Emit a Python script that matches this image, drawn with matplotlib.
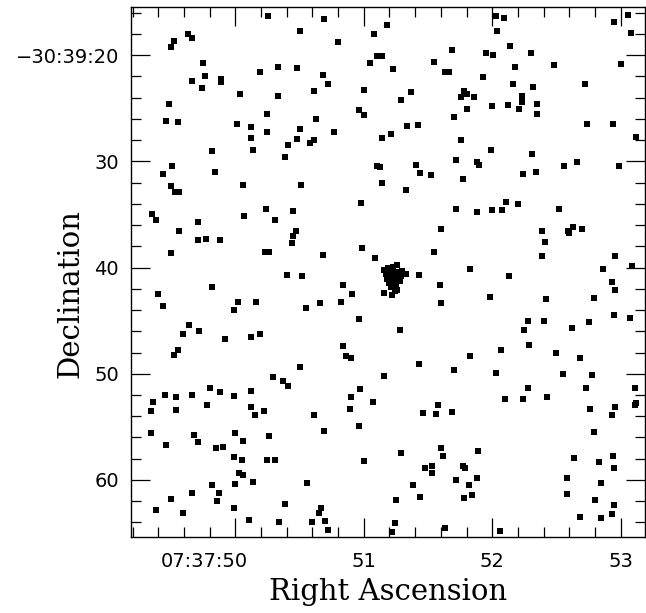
import matplotlib
matplotlib.use("Agg")
import matplotlib.pyplot as plt
import matplotlib.transforms as mtransforms
from matplotlib.ticker import MultipleLocator
import numpy as np

# Right ascension (seconds of 07:37) and declination (arcsec of -30:39) of field sources
ra_field = [
    50.255, 50.50, 49.63, 49.66, 49.52, 49.50, 49.75, 50.33, 50.48, 50.19, 49.76, 49.66, 49.89, 49.89,
    49.74, 50.04, 50.33, 49.48, 50.25, 49.46, 49.55, 50.01, 50.12, 50.50, 50.25, 50.12, 50.48, 49.82,
    50.14, 50.41, 50.39, 49.51, 49.44, 49.84, 49.50, 50.06, 50.51, 49.53, 49.56,
    50.69, 51.18, 51.08, 50.80, 51.69, 51.10, 51.14, 51.05, 51.55, 51.23, 51.63, 51.66, 50.68, 50.72,
    50.61, 51.00, 51.37, 51.29, 51.78, 51.80, 51.76, 51.86, 51.80, 50.96, 51.00, 51.70, 50.63, 51.34,
    51.42, 50.77, 50.58, 50.61, 51.14, 51.21, 51.76, 51.72, 51.10, 51.13, 51.41, 51.44, 51.52, 51.77,
    51.14, 51.33,
    52.03, 52.09, 53.06, 52.95, 52.04, 53.08, 52.14, 51.95, 52.01, 52.30, 52.18, 52.48, 53.00, 51.93,
    52.16, 52.32, 52.72, 52.00, 52.12, 52.23, 52.23, 52.21, 52.35, 52.35, 52.74, 52.94, 53.12, 51.99,
    52.31, 51.88, 51.90, 52.56, 52.66, 52.99, 52.24, 52.34,
    49.35, 49.38, 49.71, 49.56, 49.71, 49.77, 49.88, 49.50, 50.07, 50.24, 50.31, 50.45, 50.47, 50.45,
    50.44, 50.23, 50.26, 50.40, 50.52, 49.82, 49.40, 49.44, 50.02, 50.16, 49.99, 49.64, 49.59, 49.72,
    49.92, 50.12, 50.19, 49.52, 49.55, 50.50, 50.29, 50.37,
    50.98, 51.72, 51.60, 50.68, 50.99, 51.09, 51.55, 51.83, 51.43, 50.84, 50.91, 51.16, 51.59, 50.66,
    50.82, 50.55, 51.60, 50.96, 51.28, 50.84, 50.86, 50.90, 51.43, 51.83, 51.70, 51.16,
    52.11, 52.20, 51.88, 52.00, 52.08, 52.52, 52.39, 52.63, 52.59, 52.60, 52.70, 52.41, 52.39, 52.96,
    52.86, 53.09, 52.13, 52.93, 52.96, 51.98, 52.42, 52.79, 52.28, 52.40, 52.25, 52.62, 52.75, 52.95,
    53.07, 52.29, 52.07, 52.50, 52.68, 52.03, 52.55, 52.78,
    50.41, 49.80, 49.88, 49.99, 50.12, 49.45, 49.54, 49.66, 49.36, 49.34, 49.54, 49.78, 50.12, 50.15,
    50.22, 49.34, 49.46, 49.68, 49.71, 49.85, 49.90, 50.00, 50.06, 50.26, 49.99, 50.05, 50.25, 50.31,
    50.03, 50.06, 50.14, 50.00, 49.82, 49.87, 49.66, 49.50, 49.86, 49.99, 49.38, 49.59, 50.39, 50.11,
    50.34,
    50.97, 50.90, 50.89, 51.07, 50.61, 50.96, 50.69, 51.00, 50.56, 50.67, 50.65, 50.60, 50.70, 50.72,
    51.46, 51.56, 51.58, 51.69, 51.29, 51.60, 51.62, 51.48, 51.53, 51.53, 51.77, 51.79, 51.72, 51.82,
    51.38, 51.44, 51.25, 51.78, 51.84, 51.24, 51.22, 51.63,
    52.28, 52.10, 52.24, 52.43, 52.73, 53.11, 53.11, 53.12, 52.76, 52.96, 52.93, 52.79, 51.89, 52.64,
    52.83, 52.94, 52.95, 51.88, 52.58, 52.85, 52.58, 52.80, 52.95, 52.68, 52.85, 52.93, 52.06,
]
dec_field = [
    16.3, 17.7, 18.0, 18.4, 18.7, 19.2, 20.7, 21.1, 21.25, 21.6, 22.0, 22.4, 22.2, 22.5,
    23.1, 23.7, 23.8, 24.6, 25.5, 26.2, 26.3, 26.5, 26.8, 27.0, 27.2, 27.8, 27.9, 29.0,
    28.9, 28.5, 29.6, 30.4, 31.2, 31.0, 32.3, 32.2, 32.2, 32.9, 32.9,
    16.56, 17.2, 18.0, 18.75, 19.5, 20.06, 20.06, 20.7, 20.6, 21.3, 21.6, 21.6, 21.9, 22.7,
    23.4, 23.3, 23.5, 24.2, 23.4, 23.7, 23.9, 23.9, 25.1, 25.2, 25.6, 25.8, 26.0, 26.7,
    26.6, 27.25, 28.3, 28.0, 27.8, 27.4, 28.0, 29.9, 30.4, 30.5, 30.3, 31.1, 31.3, 31.7,
    32.0, 32.7,
    16.3, 16.5, 16.2, 16.9, 17.7, 17.9, 19.1, 19.8, 20.0, 19.8, 21.1, 20.9, 20.8, 22.1,
    22.7, 23.0, 22.7, 24.75, 24.7, 23.8, 24.4, 25.1, 24.6, 25.5, 26.5, 26.5, 27.7, 28.9,
    29.3, 30.1, 30.3, 30.4, 30.1, 30.4, 31.2, 31.0,
    35.0, 35.5, 35.7, 36.6, 37.4, 37.3, 37.4, 38.65, 35.15, 34.5, 35.5, 34.7, 36.6, 37.0,
    37.65, 38.5, 38.5, 40.7, 40.8, 41.8, 42.5, 43.6, 43.2, 43.2, 44.0, 45.4, 46.3, 46.0,
    46.7, 46.5, 46.3, 48.2, 47.8, 49.4, 50.3, 50.7,
    33.96, 34.5, 36.4, 38.8, 38.2, 39.1, 38.5, 40.1, 40.7, 41.6, 42.5, 42.4, 41.6, 43.3,
    43.2, 43.8, 43.3, 44.8, 45.9, 47.4, 48.3, 48.5, 49.1, 48.3, 49.65, 50.2,
    33.8, 34.0, 34.8, 34.6, 34.6, 34.5, 36.6, 36.2, 36.6, 36.7, 36.4, 37.6, 38.9, 38.9,
    40.15, 39.9, 40.8, 41.4, 42.15, 42.8, 43.0, 42.9, 45.05, 45.05, 45.9, 45.65, 45.15, 44.5,
    44.75, 47.3, 47.75, 48.05, 48.55, 49.9, 50.05, 50.1,
    51.2, 51.3, 51.7, 52.1, 51.6, 52.0, 52.2, 52.0, 52.7, 53.5, 53.4, 52.9, 53.1, 53.85,
    53.5, 55.6, 56.7, 55.8, 56.4, 57.0, 56.9, 55.6, 56.3, 55.9, 57.8, 58.1, 58.1, 58.1,
    59.3, 59.5, 60.2, 60.4, 60.5, 61.2, 61.2, 61.8, 62.0, 62.6, 62.85, 63.1, 62.3, 63.8,
    64.0,
    51.4, 52.2, 53.3, 52.7, 53.9, 54.9, 55.4, 58.2, 60.3, 62.6, 63.1, 64.0, 63.85, 64.7,
    53.7, 53.8, 52.9, 53.6, 57.5, 57.0, 57.7, 58.9, 58.7, 59.3, 58.7, 58.9, 60.0, 60.5,
    60.5, 61.6, 61.9, 61.7, 61.4, 64.1, 64.9, 64.5,
    51.3, 52.4, 52.35, 52.2, 51.3, 51.3, 52.9, 52.8, 53.35, 53.1, 53.9, 55.5, 57.25, 57.9,
    58.3, 57.7, 58.9, 59.8, 59.8, 60.3, 61.35, 61.9, 62.4, 63.5, 63.6, 63.25, 64.85,
]

# Dense central concentration
ra_core = [51.16, 51.19, 51.23, 51.26, 51.30, 51.33, 51.17, 51.21, 51.25, 51.29, 51.18,
           51.22, 51.26, 51.20, 51.24, 51.28, 51.21, 51.25, 51.24, 51.26, 51.22]
dec_core = [40.2, 40.04, 39.98, 39.79, 40.35, 40.6, 40.6, 40.51, 40.42, 40.82, 41.04,
            40.92, 40.98, 41.45, 41.36, 41.29, 41.86, 41.76, 42.17, 42.08, 42.61]

xtick_vals = [50, 51, 52, 53]
xtick_labels = ["07:37:50", "51", "52", "53"]
ytick_vals = [20, 30, 40, 50, 60]
ytick_labels = ["\u221230:39:20", "30", "40", "50", "60"]

fig = plt.figure(figsize=(6.46, 6.13), dpi=100)
ax = fig.add_axes([0.2033, 0.1235, 0.7952, 0.8645])

ra_all = np.array(ra_field + ra_core)
dec_all = np.array(dec_field + dec_core)
ax.scatter(ra_all, dec_all, marker="s", s=13, c="black", linewidths=0)

ax.set_xlim(49.19, 53.19)
ax.set_ylim(65.4, 15.5)

ax.set_xticks(xtick_vals)
ax.set_xticklabels(xtick_labels)
ax.set_yticks(ytick_vals)
ax.set_yticklabels(ytick_labels)
ax.xaxis.set_minor_locator(MultipleLocator(0.2))
ax.yaxis.set_minor_locator(MultipleLocator(2))

ax.tick_params(which="both", direction="in", top=True, right=True, width=0.9, color="black")
ax.tick_params(which="major", length=14)
ax.tick_params(which="minor", length=7.5)
ax.tick_params(axis="x", which="major", pad=10.5, labelsize=14)
ax.tick_params(axis="y", which="major", pad=9, labelsize=14)
for sp in ax.spines.values():
    sp.set_linewidth(1.0)

# first RA label: "50" centred on the tick, prefix extends left
first = ax.get_xticklabels()[0]
first.set_horizontalalignment("right")
first.set_transform(first.get_transform() + mtransforms.ScaledTranslation(0.125, 0, fig.dpi_scale_trans))

ax.set_xlabel("Right Ascension", fontsize=21, family="DejaVu Serif", labelpad=5)
ax.set_ylabel("Declination", fontsize=21, family="DejaVu Serif")
ax.yaxis.set_label_coords(-0.092, 0.46)

fig.savefig("out.png", dpi=100)
